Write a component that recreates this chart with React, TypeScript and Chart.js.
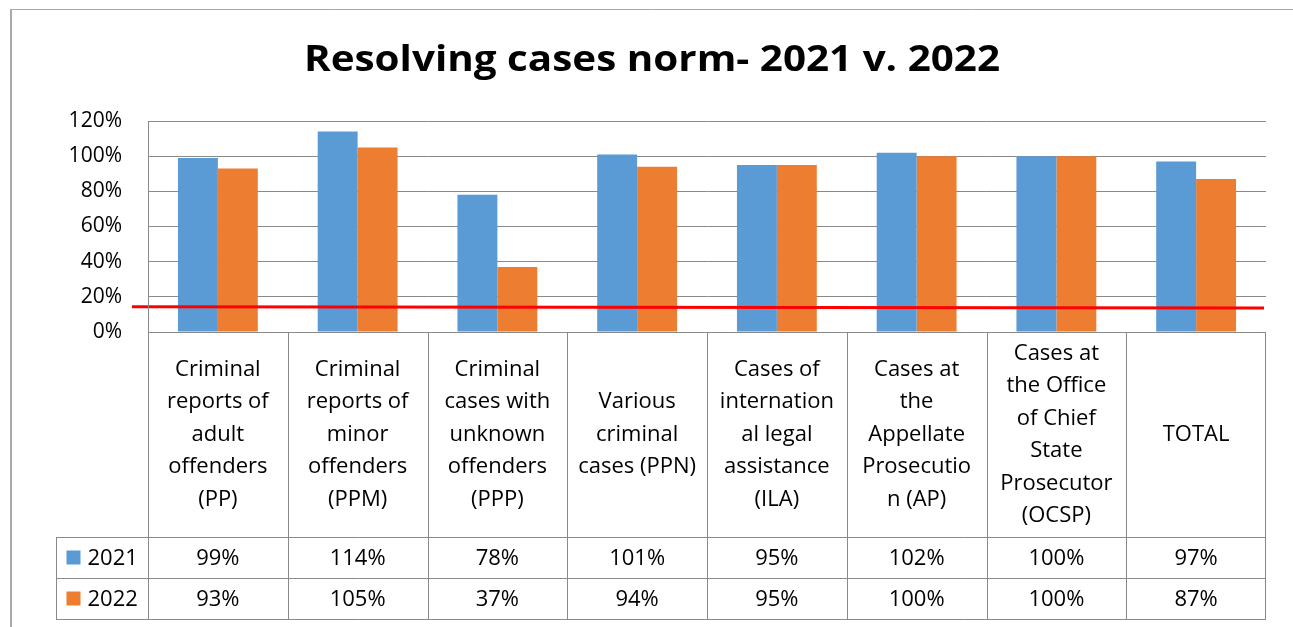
import React, { useEffect, useRef } from "react";
import { Chart, registerables } from "chart.js";

Chart.register(...registerables);

const TITLE = "Resolving cases norm- 2021 v. 2022";
const categories: string[][] = [
  ["Criminal", "reports of", "adult", "offenders", "(PP)"],
  ["Criminal", "reports of", "minor", "offenders", "(PPM)"],
  ["Criminal", "cases with", "unknown", "offenders", "(PPP)"],
  ["Various", "criminal", "cases (PPN)"],
  ["Cases of", "internation", "al legal", "assistance", "(ILA)"],
  ["Cases at", "the", "Appellate", "Prosecutio", "n (AP)"],
  ["Cases at", "the Office", "of Chief", "State", "Prosecutor", "(OCSP)"],
  ["TOTAL"],
];
const seriesNames = ["2021", "2022"];
const values2021 = [99, 114, 78, 101, 95, 102, 100, 97];
const values2022 = [93, 105, 37, 94, 95, 100, 100, 87];
const seriesColors = ["#5B9BD5", "#ED7D31"];
const yMax = 120;
const yStep = 20;
// red "norm" line, value at its left end and right end (%)
const normLine = [14.4, 13.6];

const FONT = "'Open Sans', 'Noto Sans', sans-serif";
const GRID = "#898989";
const FRAME = "#a9a9a9";

const CAT_ROW_H = 205;
const VAL_ROW_H = 41;
const LEGEND_COL_W = 92;
const TITLE_WIDTH = 696;

const framePlugin = {
  id: "frame",
  beforeDraw(chart: any) {
    const ctx = chart.ctx;
    ctx.save();
    ctx.fillStyle = "#ffffff";
    ctx.fillRect(0, 0, chart.width, chart.height);
    ctx.strokeStyle = FRAME;
    ctx.lineWidth = 2;
    ctx.beginPath();
    ctx.moveTo(11, 9);
    ctx.lineTo(11, chart.height);
    ctx.stroke();
    ctx.lineWidth = 1;
    ctx.beginPath();
    ctx.moveTo(10, 9.5);
    ctx.lineTo(chart.width, 9.5);
    ctx.stroke();
    // title
    ctx.fillStyle = "#000";
    ctx.font = `bold 36px ${FONT}`;
    ctx.textAlign = "center";
    ctx.textBaseline = "alphabetic";
    const w = ctx.measureText(TITLE).width;
    const sx = TITLE_WIDTH / w;
    ctx.translate(652, 71);
    ctx.scale(sx, 1);
    ctx.fillText(TITLE, 0, 0);
    ctx.restore();
  },
};

const normPlugin = {
  id: "norm",
  afterDatasetsDraw(chart: any) {
    const { ctx, chartArea, scales } = chart;
    const y = scales.y;
    ctx.save();
    ctx.strokeStyle = "#FF0000";
    ctx.lineWidth = 3;
    ctx.beginPath();
    ctx.moveTo(chartArea.left - 16, y.getPixelForValue(normLine[0]));
    ctx.lineTo(chartArea.right - 2, y.getPixelForValue(normLine[1]));
    ctx.stroke();
    ctx.restore();
  },
};

const tablePlugin = {
  id: "datatable",
  afterDraw(chart: any) {
    const { ctx, chartArea, scales } = chart;
    const x = scales.x;
    const n = categories.length;
    const colW = (chartArea.right - chartArea.left) / n;
    const top = chartArea.bottom;
    const r1 = top + CAT_ROW_H;
    const r2 = r1 + VAL_ROW_H;
    const r3 = r2 + VAL_ROW_H;
    const L = Math.round(chartArea.left) + 0.5;
    const R = Math.round(chartArea.right) - 0.5;
    const legL = L - LEGEND_COL_W;
    ctx.save();
    ctx.strokeStyle = GRID;
    ctx.lineWidth = 1;
    ctx.beginPath();
    ctx.moveTo(L, Math.round(top) + 0.5);
    ctx.lineTo(R, Math.round(top) + 0.5);
    for (const yy of [r1, r2, r3]) {
      ctx.moveTo(legL, Math.round(yy) + 0.5);
      ctx.lineTo(R, Math.round(yy) + 0.5);
    }
    ctx.moveTo(L, chartArea.top);
    ctx.lineTo(L, Math.round(r3) + 1);
    for (let i = 1; i <= n; i++) {
      const xx = Math.round(chartArea.left + colW * i) + 0.5 - (i === n ? 1 : 0);
      ctx.moveTo(xx, top);
      ctx.lineTo(xx, Math.round(r3) + 1);
    }
    ctx.moveTo(legL, Math.round(r1));
    ctx.lineTo(legL, Math.round(r3) + 1);
    ctx.stroke();

    ctx.fillStyle = "#000";
    ctx.textAlign = "center";
    ctx.textBaseline = "middle";
    ctx.font = `22px ${FONT}`;
    const lh = 32.5;
    categories.forEach((lines, i) => {
      const cx = x.getPixelForValue(i);
      const cy = (top + r1) / 2;
      const y0 = cy - ((lines.length - 1) * lh) / 2;
      lines.forEach((t, j) => ctx.fillText(t, cx, y0 + j * lh));
    });
    const rows = [values2021, values2022];
    rows.forEach((vals, k) => {
      const cy = r1 + VAL_ROW_H * k + VAL_ROW_H / 2 + 1;
      vals.forEach((v, i) => {
        ctx.fillText(`${v}%`, x.getPixelForValue(i), cy);
      });
      ctx.fillStyle = seriesColors[k];
      ctx.fillRect(legL + 10, cy - 8, 14, 14);
      ctx.fillStyle = "#000";
      ctx.textAlign = "left";
      ctx.fillText(seriesNames[k], legL + 31, cy);
      ctx.textAlign = "center";
    });
    ctx.restore();
  },
};

export default function App() {
  const ref = useRef<HTMLCanvasElement | null>(null);
  useEffect(() => {
    if (!ref.current) return;
    const chart = new Chart(ref.current, {
      type: "bar",
      data: {
        labels: categories,
        datasets: [
          { label: seriesNames[0], data: values2021, backgroundColor: seriesColors[0], borderWidth: 0 },
          { label: seriesNames[1], data: values2022, backgroundColor: seriesColors[1], borderWidth: 0 },
        ],
      },
      options: {
        animation: false,
        responsive: false,
        devicePixelRatio: 1,
        layout: { padding: { left: 0, top: 121, right: 27, bottom: 295 } },
        plugins: { legend: { display: false }, title: { display: false }, tooltip: { enabled: false } },
        datasets: { bar: { barPercentage: 1, categoryPercentage: 2 / 3.5 } },
        scales: {
          x: { display: false },
          y: {
            min: 0,
            max: yMax,
            afterFit: (s: any) => {
              s.width = 148;
            },
            ticks: {
              stepSize: yStep,
              padding: 26,
              color: "#000",
              font: { family: FONT, size: 21 },
              callback: (v: any) => `${v}%`,
            },
            grid: { color: GRID, lineWidth: 1, drawTicks: false },
            border: { display: true, color: GRID, width: 1 },
          },
        },
      },
      plugins: [framePlugin, normPlugin, tablePlugin],
    });
    return () => chart.destroy();
  }, []);
  return (
    <div style={{ position: "absolute", left: 0, top: 0, width: 1293, height: 627 }}>
      <canvas ref={ref} width={1293} height={627} style={{ display: "block" }} />
    </div>
  );
}
